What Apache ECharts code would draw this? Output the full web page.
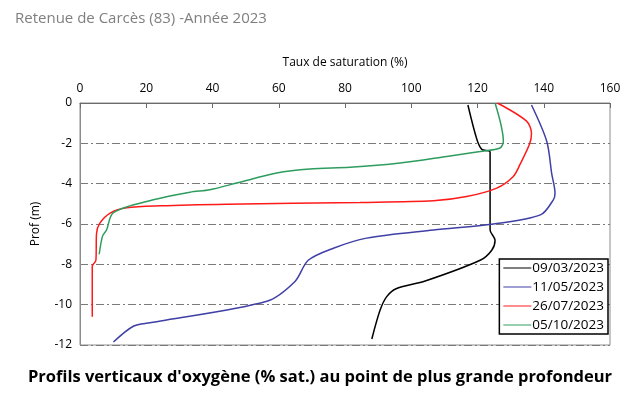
<!DOCTYPE html>
<html>
<head>
<meta charset="utf-8">
<script src="https://cdn.jsdelivr.net/npm/echarts@6/dist/echarts.min.js"></script>
<style>
  html, body { margin: 0; padding: 0; background: #fff; }
  #main { width: 640px; height: 399px; }
</style>
</head>
<body>
<div id="main"></div>
<script>
// profiles: [saturation %, depth m]
var mars = [[117.1, -0.1], [119.8, -1.8], [121.3, -2.3], [123.8, -2.43], [123.8, -4], [123.8, -6.3], [125.3, -6.8], [124.3, -7.3], [120.8, -7.8], [104.2, -8.83], [95.6, -9.2], [92.6, -9.6], [90.6, -10.27], [88.1, -11.7]];
var mai = [[136.3, -0.1], [140.9, -1.9], [142.4, -3.5], [143.4, -4.47], [142.9, -4.8], [139, -5.55], [124.8, -6.0], [106.7, -6.3], [86.5, -6.7], [76.5, -7.2], [68.9, -7.8], [64.9, -8.85], [56.4, -9.83], [21.1, -10.9], [16.1, -11.07], [10.1, -11.85]];
var juillet = [[126, 0], [134.8, -0.9], [136.3, -1.5], [135.8, -2.0], [132.8, -3.06], [130.8, -3.64], [125.8, -4.22], [116.7, -4.64], [106.7, -4.85], [84.5, -4.93], [44.3, -5.02], [24.2, -5.1], [14.1, -5.2], [9.1, -5.46], [6.0, -5.96], [5.0, -6.46], [4.8, -7.8], [3.7, -8.1], [3.7, -10.6]];
var octobre = [[125.3, 0], [127.8, -1.9], [126.8, -2.23], [120.8, -2.4], [110.7, -2.65], [96.6, -2.98], [81.5, -3.19], [69.4, -3.27], [59.4, -3.47], [47.3, -3.97], [39.2, -4.3], [33.2, -4.42], [22.1, -4.8], [10.1, -5.43], [8.0, -6.3], [6.8, -6.6], [5.8, -7.5]];
var dates = ['09/03/2023', '11/05/2023', '26/07/2023', '05/10/2023'];
var colors = ['#000000', '#3f3fa6', '#ff1a1a', '#2e9c5e'];

var font = 'Open Sans';
var chart = echarts.init(document.getElementById('main'));

function serie(i, data) {
  return {
    name: dates[i], type: 'line', data: data, showSymbol: false, smooth: 0.3,
    lineStyle: { color: colors[i], width: 1.5 }, itemStyle: { color: colors[i] }
  };
}

chart.setOption({
  animation: false,
  textStyle: { fontFamily: font },
  title: [{
    text: 'Retenue de Carcès (83) -Année 2023', left: 10, top: 6,
    textStyle: { fontFamily: font, fontSize: 15, fontWeight: 'normal', color: '#7f7f7f' }
  }, {
    text: "Profils verticaux d'oxygène (% sat.) au point de plus grande profondeur", left: 'center', top: 364,
    textStyle: { fontFamily: font, fontSize: 16.5, fontWeight: 'bold', color: '#000' }
  }],
  grid: { left: 80, right: 30, top: 103, bottom: 54, show: true, borderColor: '#8c8c8c', borderWidth: 1 },
  legend: {
    orient: 'vertical', right: 32, top: 259, data: dates,
    borderColor: '#000', borderWidth: 1.5, padding: [2, 4, 2, 4], itemGap: 5,
    itemWidth: 28, itemHeight: 10, icon: 'path://M0,5L28,5L28,6L0,6Z',
    textStyle: { fontFamily: font, fontSize: 13.5, color: '#000', padding: [0, 0, 0, -4] },
    backgroundColor: '#fff'
  },
  xAxis: {
    type: 'value', position: 'top', min: 0, max: 160, interval: 20,
    name: 'Taux de saturation (%)', nameLocation: 'middle', nameGap: 34,
    nameTextStyle: { fontFamily: font, fontSize: 12, color: '#000' },
    axisLine: { show: true, lineStyle: { color: '#6b6b6b' } },
    axisTick: { show: true, inside: true, length: 5, lineStyle: { color: '#6b6b6b' } },
    axisLabel: { fontFamily: font, fontSize: 12, color: '#000', margin: 8 },
    splitLine: { show: false }
  },
  yAxis: {
    type: 'value', min: -12, max: 0, interval: 2,
    name: 'Prof (m)', nameLocation: 'middle', nameGap: 38,
    nameTextStyle: { fontFamily: font, fontSize: 12, color: '#000' },
    axisLine: { show: true, lineStyle: { color: '#8c8c8c' } },
    axisTick: { show: false },
    axisLabel: { fontFamily: font, fontSize: 12, color: '#000', margin: 8 },
    splitLine: { show: true, lineStyle: { color: '#7a7a7a', width: 1, type: [8, 3, 2, 3] } }
  },
  series: [serie(0, mars), serie(1, mai), serie(2, juillet), serie(3, octobre)]
});
</script>
</body>
</html>
